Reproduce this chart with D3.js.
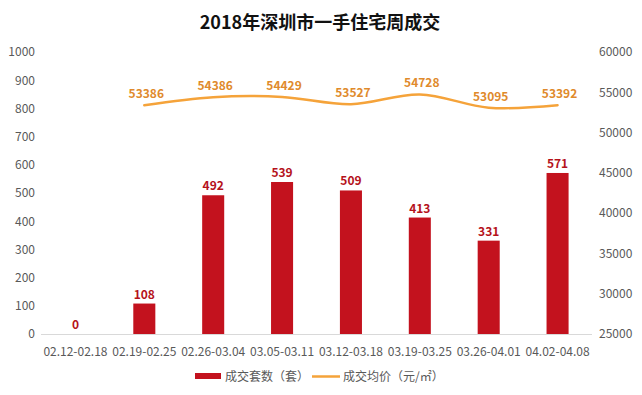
<!DOCTYPE html>
<html>
<head>
<meta charset="utf-8">
<script src="https://cdn.jsdelivr.net/npm/d3@7"></script>
<style>
  body { margin: 0; background: #fff; }
  text { font-family: "Liberation Sans Narrow", "Noto Sans CJK SC", sans-serif; }
</style>
</head>
<body>
<script>
var width = 642;
var height = 395;

var weeks = ["02.12-02.18", "02.19-02.25", "02.26-03.04", "03.05-03.11",
             "03.12-03.18", "03.19-03.25", "03.26-04.01", "04.02-04.08"];
var deals = [0, 108, 492, 539, 509, 413, 331, 571];
var prices = [null, 53386, 54386, 54429, 53527, 54728, 53095, 53392];
var leftTicks = [0, 100, 200, 300, 400, 500, 600, 700, 800, 900, 1000];
var rightTicks = [25000, 30000, 35000, 40000, 45000, 50000, 55000, 60000];

var barColor = "#C3121E";
var lineColor = "#F5A33A";

var margin = {top: 52, right: 50, bottom: 61, left: 41};

var svg = d3.select("body").append("svg")
    .attr("width", width)
    .attr("height", height);

var x = d3.scaleBand()
    .domain(weeks)
    .range([margin.left, width - margin.right])
    .paddingInner(0.68)
    .paddingOuter(0.34);

var y = d3.scaleLinear()
    .domain([0, 1000])
    .range([height - margin.bottom, margin.top]);

var y2 = d3.scaleLinear()
    .domain([25000, 60000])
    .range([height - margin.bottom, margin.top]);

// title
svg.append("text")
    .attr("x", 320)
    .attr("y", 29)
    .attr("text-anchor", "middle")
    .style("font-family", "'Noto Sans CJK SC', sans-serif")
    .style("font-size", "18px")
    .style("font-weight", "bold")
    .attr("fill", "#111")
    .text("2018年深圳市一手住宅周成交");

// axes (labels only)
var leftAxis = svg.append("g")
    .attr("transform", `translate(${margin.left - 6},0)`)
    .call(d3.axisLeft(y).tickValues(leftTicks).tickSize(0).tickPadding(0).tickFormat(d3.format("d")));
var rightAxis = svg.append("g")
    .attr("transform", `translate(${width - margin.right + 7},0)`)
    .call(d3.axisRight(y2).tickValues(rightTicks).tickSize(0).tickPadding(0).tickFormat(d3.format("d")));
[leftAxis, rightAxis].forEach(a => {
  a.select(".domain").remove();
  a.selectAll("text")
      .style("font-size", "12px")
      .attr("fill", "#595959");
});

// baseline
svg.append("line")
    .attr("x1", margin.left)
    .attr("x2", width - margin.right)
    .attr("y1", y(0) + 0.5)
    .attr("y2", y(0) + 0.5)
    .attr("stroke", "#D9D9D9")
    .attr("stroke-width", 1);

var xAxis = svg.append("g")
    .attr("transform", `translate(0,${y(0)})`)
    .call(d3.axisBottom(x).tickSize(0).tickPadding(13));
xAxis.select(".domain").remove();
xAxis.selectAll("text")
    .style("font-size", "12px")
    .attr("fill", "#595959");

// bars
svg.append("g")
    .selectAll("rect")
    .data(deals)
    .enter()
    .append("rect")
      .attr("x", (d, i) => x(weeks[i]))
      .attr("y", d => y(d))
      .attr("width", x.bandwidth())
      .attr("height", d => y(0) - y(d))
      .attr("fill", barColor);

svg.append("g")
    .selectAll("text")
    .data(deals)
    .enter()
    .append("text")
      .attr("x", (d, i) => x(weeks[i]) + x.bandwidth() / 2)
      .attr("y", d => y(d) - 5)
      .attr("text-anchor", "middle")
      .style("font-size", "12px")
      .style("font-weight", "bold")
      .attr("fill", "#B5121B")
      .text(d => d);

// price line
var pts = prices.map((p, i) => ({week: weeks[i], price: p})).filter(d => d.price != null);

var line = d3.line()
    .x(d => x(d.week) + x.bandwidth() / 2)
    .y(d => y2(d.price))
    .curve(d3.curveCatmullRom.alpha(0.5));

svg.append("path")
    .datum(pts)
    .attr("fill", "none")
    .attr("stroke", lineColor)
    .attr("stroke-width", 2.5)
    .attr("stroke-linecap", "round")
    .attr("d", line);

svg.append("g")
    .selectAll("text")
    .data(pts)
    .enter()
    .append("text")
      .attr("x", d => x(d.week) + x.bandwidth() / 2 + 2)
      .attr("y", d => y2(d.price) - 7)
      .attr("text-anchor", "middle")
      .style("font-size", "12px")
      .style("font-weight", "bold")
      .attr("fill", "#E08A2C")
      .text(d => d.price);

// legend
var legend = svg.append("g")
    .attr("transform", "translate(195,376)");
legend.append("rect")
    .attr("x", 0)
    .attr("y", -3)
    .attr("width", 26)
    .attr("height", 6)
    .attr("fill", barColor);
legend.append("text")
    .attr("x", 30)
    .attr("y", 4.5)
    .style("font-family", "'Noto Sans CJK SC', sans-serif")
    .style("font-size", "12px")
    .attr("fill", "#595959")
    .text("成交套数（套）");
legend.append("line")
    .attr("x1", 117)
    .attr("x2", 145)
    .attr("y1", 0.5)
    .attr("y2", 0.5)
    .attr("stroke", lineColor)
    .attr("stroke-width", 2.5);
legend.append("text")
    .attr("x", 148)
    .attr("y", 4.5)
    .style("font-family", "'Noto Sans CJK SC', sans-serif")
    .style("font-size", "12px")
    .attr("fill", "#595959")
    .text("成交均价（元/㎡）");
</script>
</body>
</html>
